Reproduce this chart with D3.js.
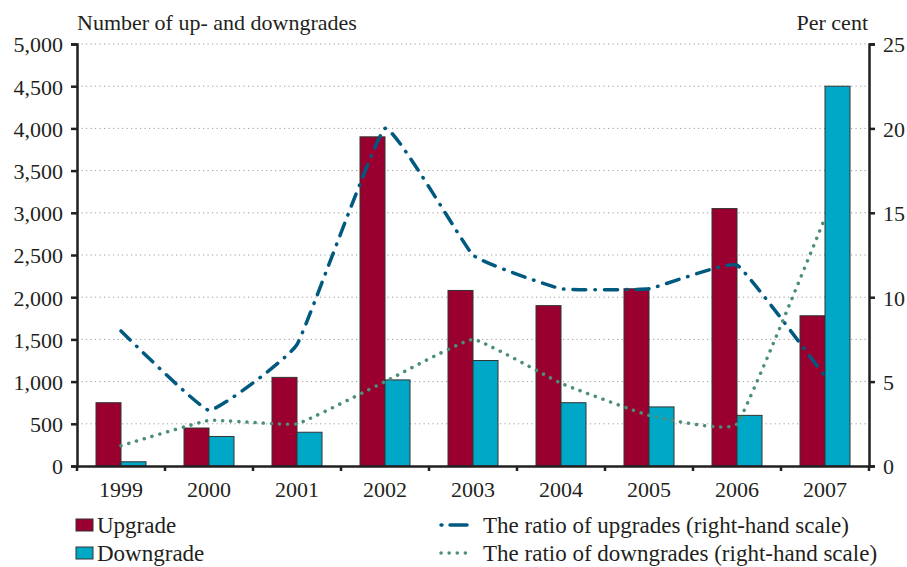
<!DOCTYPE html>
<html>
<head>
<meta charset="utf-8">
<script src="https://d3js.org/d3.v7.min.js"></script>
<style>
  body { margin: 0; background: #fff; }
  svg { display: block; }
  text { font-family: "Liberation Serif", "DejaVu Serif", serif; fill: #231f20; }
</style>
</head>
<body>
<svg width="907" height="567"></svg>
<script>
// data
var years = ["1999", "2000", "2001", "2002", "2003", "2004", "2005", "2006", "2007"];
var upgrades = [750, 450, 1050, 3900, 2080, 1900, 2100, 3050, 1780];
var downgrades = [50, 350, 400, 1020, 1250, 750, 700, 600, 4500];
var ratioUp = [8.0, 3.3, 7.2, 20.0, 12.5, 10.5, 10.5, 11.9, 5.3];
var ratioDown = [1.2, 2.7, 2.5, 5.0, 7.5, 4.9, 3.0, 2.5, 14.7];
var leftTicks = [0, 500, 1000, 1500, 2000, 2500, 3000, 3500, 4000, 4500, 5000];
var rightTicks = [0, 5, 10, 15, 20, 25];

var colUp = "#990030", colDown = "#00a8c8";
var colLineUp = "#005a80", colLineDown = "#4a8f76";

var svg = d3.select("svg");
var pLeft = 77, pRight = 869, pTop = 44, pBottom = 466;
var fs = 22;

var x = d3.scaleBand().domain(years).range([pLeft, pRight]);
var y = d3.scaleLinear().domain([0, 5000]).range([pBottom, pTop]);
var y2 = d3.scaleLinear().domain([0, 25]).range([pBottom, pTop]);
var barW = 25;

// grid
svg.append("g")
  .selectAll("line")
  .data(leftTicks.filter(function (d) { return d > 0; }))
  .join("line")
  .attr("x1", pLeft).attr("x2", pRight)
  .attr("y1", function (d) { return y(d); })
  .attr("y2", function (d) { return y(d); })
  .attr("stroke", "#9a9a9a")
  .attr("stroke-width", 1)
  .attr("stroke-dasharray", "1.2 3.3");

// bars
var grp = svg.append("g").selectAll("g").data(years).join("g");
grp.append("rect")
  .attr("x", function (d) { return x(d) + x.bandwidth() / 2 - barW; })
  .attr("y", function (d, i) { return y(upgrades[i]); })
  .attr("width", barW)
  .attr("height", function (d, i) { return pBottom - y(upgrades[i]); })
  .attr("fill", colUp).attr("stroke", "#333").attr("stroke-width", 1);
grp.append("rect")
  .attr("x", function (d) { return x(d) + x.bandwidth() / 2; })
  .attr("y", function (d, i) { return y(downgrades[i]); })
  .attr("width", barW)
  .attr("height", function (d, i) { return pBottom - y(downgrades[i]); })
  .attr("fill", colDown).attr("stroke", "#333").attr("stroke-width", 1);

// ratio lines
var line = d3.line()
  .x(function (d, i) { return x(years[i]) + x.bandwidth() / 2; })
  .y(function (d) { return y2(d); })
  .curve(d3.curveCardinal.tension(0.7));

svg.append("path")
  .attr("d", line(ratioUp))
  .attr("fill", "none").attr("stroke", colLineUp)
  .attr("stroke-width", 3.5).attr("stroke-linecap", "round")
  .attr("stroke-dasharray", "13 9 0.5 9");
svg.append("path")
  .attr("d", line(ratioDown))
  .attr("fill", "none").attr("stroke", colLineDown)
  .attr("stroke-width", 3.5).attr("stroke-linecap", "round")
  .attr("stroke-dasharray", "0.1 8");

// axes
var axL = svg.append("g").attr("transform", "translate(" + pLeft + ",0)")
  .call(d3.axisLeft(y).tickValues(leftTicks).tickFormat(d3.format(",")).tickSize(6).tickPadding(8));
var axR = svg.append("g").attr("transform", "translate(" + pRight + ",0)")
  .call(d3.axisRight(y2).tickValues(rightTicks).tickSize(6).tickPadding(8));
var axB = svg.append("g").attr("transform", "translate(0," + pBottom + ")")
  .call(d3.axisBottom(x).tickSize(0).tickPadding(18));

[axL, axR, axB].forEach(function (a) {
  a.select(".domain").attr("stroke", "#231f20").attr("stroke-width", 2.5);
  a.selectAll(".tick line").attr("stroke", "#231f20").attr("stroke-width", 2.5);
  a.selectAll("text").attr("font-size", fs).attr("font-family", null).attr("fill", "#231f20");
});
axL.selectAll(".tick text").attr("dy", "0.36em");
axR.selectAll(".tick text").attr("dy", "0.36em");
axB.selectAll(".tick text").attr("dy", "0.6em");

// x ticks at the band edges
svg.append("g")
  .selectAll("line")
  .data(years.concat(["end"]))
  .join("line")
  .attr("x1", function (d) { return d === "end" ? pRight : x(d); })
  .attr("x2", function (d) { return d === "end" ? pRight : x(d); })
  .attr("y1", pBottom).attr("y2", pBottom + 5)
  .attr("stroke", "#231f20").attr("stroke-width", 2.5);

// axis titles
svg.append("text").attr("x", pLeft).attr("y", 30).attr("font-size", fs)
  .text("Number of up- and downgrades");
svg.append("text").attr("x", pRight - 1).attr("y", 30).attr("font-size", fs)
  .attr("text-anchor", "end").text("Per cent");

// legend
var lg = svg.append("g");
lg.append("rect").attr("x", 76).attr("y", 519).attr("width", 17).attr("height", 12)
  .attr("fill", colUp).attr("stroke", "#333");
lg.append("text").attr("x", 97).attr("y", 533).attr("font-size", 23).text("Upgrade");
lg.append("rect").attr("x", 76).attr("y", 547).attr("width", 17).attr("height", 12)
  .attr("fill", colDown).attr("stroke", "#333");
lg.append("text").attr("x", 97).attr("y", 561).attr("font-size", 23).text("Downgrade");

lg.append("line").attr("x1", 441).attr("x2", 442).attr("y1", 525).attr("y2", 525)
  .attr("stroke", colLineUp).attr("stroke-width", 3.5).attr("stroke-linecap", "round");
lg.append("line").attr("x1", 450).attr("x2", 467).attr("y1", 525).attr("y2", 525)
  .attr("stroke", colLineUp).attr("stroke-width", 3.5).attr("stroke-linecap", "round");
lg.append("text").attr("x", 483).attr("y", 533).attr("font-size", 23)
  .text("The ratio of upgrades (right-hand scale)");
lg.append("line").attr("x1", 441).attr("x2", 468).attr("y1", 553).attr("y2", 553)
  .attr("stroke", colLineDown).attr("stroke-width", 3.5).attr("stroke-linecap", "round")
  .attr("stroke-dasharray", "0.1 8");
lg.append("text").attr("x", 483).attr("y", 561).attr("font-size", 23)
  .text("The ratio of downgrades (right-hand scale)");
</script>
</body>
</html>
